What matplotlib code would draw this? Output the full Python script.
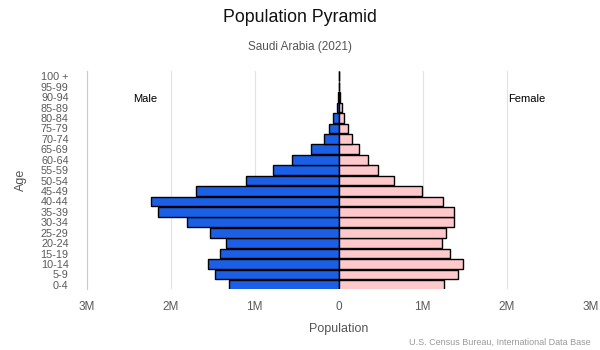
import matplotlib
matplotlib.use("Agg")
import matplotlib.pyplot as plt
import numpy as np

plt.rcParams['font.family'] = ['Liberation Sans', 'DejaVu Sans']

# age groups, bottom to top
age_groups = ['0-4', '5-9', '10-14', '15-19', '20-24', '25-29', '30-34', '35-39',
              '40-44', '45-49', '50-54', '55-59', '60-64', '65-69', '70-74',
              '75-79', '80-84', '85-89', '90-94', '95-99', '100 +']

# population in millions
male = [1.30, 1.47, 1.55, 1.41, 1.345, 1.53, 1.80, 2.15, 2.23, 1.70, 1.10,
        0.78, 0.55, 0.326, 0.171, 0.112, 0.064, 0.024, 0.008, 0.002, 0.0005]
female = [1.257, 1.424, 1.483, 1.329, 1.233, 1.281, 1.376, 1.376, 1.245, 0.99,
          0.662, 0.472, 0.352, 0.245, 0.158, 0.114, 0.067, 0.036, 0.010, 0.003, 0.001]

x_ticks = [-3, -2, -1, 0, 1, 2, 3]
x_tick_labels = ['3M', '2M', '1M', '0', '1M', '2M', '3M']

fig = plt.figure(figsize=(6, 3.5), dpi=100)
ax = fig.add_axes([86.7 / 600, 1 - 289 / 350, 504 / 600, 218 / 350])

y = np.arange(len(age_groups))
male_m = np.array(male) * 1e6
female_m = np.array(female) * 1e6

ax.barh(y, -male_m, height=0.93, color='#1a5fe6', edgecolor='black', linewidth=1.0, zorder=3)
ax.barh(y, female_m, height=0.93, color='#ffc8cb', edgecolor='black', linewidth=1.0, zorder=3)

ax.set_xlim(-3e6, 3e6)
ax.set_ylim(-0.4, 20.5)
ax.set_yticks(y)
ax.set_yticklabels(age_groups)
ax.set_xticks([t * 1e6 for t in x_ticks])
ax.set_xticklabels(x_tick_labels)

ax.tick_params(axis='both', length=0, labelcolor='#5a5a5a')
ax.tick_params(axis='y', pad=13, labelsize=7.8)
ax.tick_params(axis='x', pad=9, labelsize=8.5)

ax.grid(axis='x', color='#e2e2e2', linewidth=0.8, zorder=0)
for s in ['top', 'right', 'bottom']:
    ax.spines[s].set_visible(False)
ax.spines['left'].set_color('#c8c8dc')
ax.spines['left'].set_linewidth(0.8)

ax.set_ylabel('Age', fontsize=9, color='#555555', labelpad=10)
ax.set_xlabel('Population', fontsize=9, color='#555555', labelpad=7)

ax.text(-2.306e6, 17.8, 'Male', fontsize=8, color='black', ha='center', va='center')
ax.text(2.24e6, 17.8, 'Female', fontsize=8, color='black', ha='center', va='center')

fig.text(0.5, 1 - 18 / 350, 'Population Pyramid', fontsize=12.8, ha='center', va='center', color='#111111')
fig.text(0.5, 1 - 47 / 350, 'Saudi Arabia (2021)', fontsize=8.5, ha='center', va='center', color='#555555')
fig.text(591 / 600, 1 - 342 / 350, 'U.S. Census Bureau, International Data Base',
         fontsize=6.5, ha='right', va='center', color='#999999')

fig.savefig('out.png', dpi=100)
